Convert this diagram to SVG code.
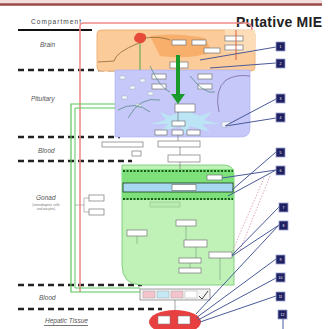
<svg xmlns="http://www.w3.org/2000/svg" width="328" height="329" viewBox="0 0 328 329">
<style>
.lbl{font-family:"Liberation Sans",Arial,sans-serif;font-size:6.5px;font-style:italic;fill:#555}
.sub{font-family:"Liberation Sans",Arial,sans-serif;font-size:3.2px;fill:#777}
.dash{stroke:#222;stroke-width:2.5;stroke-dasharray:6 4;fill:none}
.bx{fill:#fff;stroke:#777;stroke-width:0.7}
.sq{fill:#1f2163;stroke:#9aa0cc;stroke-width:0.8}
.sqt{font-family:"Liberation Sans",Arial,sans-serif;font-size:3.5px;fill:#fff;text-anchor:middle}
.con{stroke:#4a5a98;stroke-width:1;fill:none}
.vein{stroke:#5a8a8a;stroke-width:0.8;fill:none}
.cell{fill:#f4f6ff;stroke:#9aa;stroke-width:0.4}
</style>
<rect width="328" height="329" fill="#fff"/>
<rect x="0" y="0" width="322" height="3.5" fill="#f3dede"/>
<line x1="0" y1="4.5" x2="322" y2="4.5" stroke="#9a4848" stroke-width="2.5"/>

<g id="compartment-labels">
  <text class="lbl" x="31" y="24" style="font-style:normal;fill:#444" textLength="50">Compartment</text>
  <line x1="18" y1="30" x2="92" y2="30" stroke="#111" stroke-width="2"/>
  <text class="lbl" x="40" y="47">Brain</text>
  <text class="lbl" x="31" y="101">Pituitary</text>
  <text class="lbl" x="38" y="153">Blood</text>
  <text class="lbl" x="36" y="200">Gonad</text>
  <text class="sub" x="46" y="206" text-anchor="middle">(steroidogenic cells</text>
  <text class="sub" x="46" y="210" text-anchor="middle">and oocytes)</text>
  <text class="lbl" x="39" y="300">Blood</text>
  <text class="lbl" x="45" y="323">Hepatic Tissue</text>
  <line x1="44" y1="325.5" x2="88" y2="325.5" stroke="#555" stroke-width="0.8"/>
</g>

<g id="dividers">
  <line class="dash" x1="18" y1="70" x2="125" y2="70"/>
  <line class="dash" x1="18" y1="137" x2="120" y2="137"/>
  <line class="dash" x1="18" y1="161" x2="132" y2="161"/>
  <line class="dash" x1="18" y1="285" x2="142" y2="285"/>
  <line class="dash" x1="18" y1="309" x2="162" y2="309"/>
</g>

<text x="236" y="27" font-family="Liberation Sans, Arial, sans-serif" font-size="14" font-weight="bold" fill="#222" textLength="86">Putative MIE</text>

<g id="brain">
  <rect x="97" y="30" width="158" height="41" rx="4" fill="#fccb9a" stroke="#f0a868" stroke-width="0.8"/>
  <rect x="225" y="30" width="30" height="22" fill="#fddcb8"/>
  <path d="M150 36 Q175 32 205 38 L212 52 Q190 60 160 56 Z" fill="#f6a860" opacity="0.8"/>
  <rect x="172" y="40" width="14" height="5" class="bx"/>
  <rect x="192" y="40" width="14" height="5" class="bx"/>
  <rect x="204" y="48" width="16" height="5" class="bx"/>
  <rect x="225" y="36" width="18" height="5" class="bx"/>
  <rect x="225" y="45" width="18" height="5" class="bx"/>
  <rect x="170" y="62" width="18" height="6" class="bx"/>
  <path d="M134 38 Q136 32 141 33 Q147 33 146 39 Q144 44 139 43 Q134 42 134 38 Z" fill="#e84a3a"/>
  <path d="M139 43 Q116 52 114 61 L98 62" stroke="#8a6a3a" stroke-width="0.8" fill="none"/>
  <path d="M145 38 Q160 36 170 40" stroke="#8a6a3a" stroke-width="0.8" fill="none"/>
  <path d="M140 43 L140 70" stroke="#4aa84a" stroke-width="1" fill="none"/>
  <path d="M236 30 V60" stroke="#e06040" stroke-width="1"/>
</g>

<g id="pituitary">
  <path d="M115 70 H250 V128 Q250 137 241 137 H115 Z" fill="#c5c8f8" stroke="#a8acf0" stroke-width="0.6"/>
  <path d="M219 112 Q214 90 226 80 Q236 74 250 76" stroke="#8a7ab8" stroke-width="1" fill="none"/>
  <rect x="120" y="76" width="5" height="3" class="cell"/>
  <rect x="130" y="86" width="5" height="3" class="cell"/>
  <rect x="122" y="96" width="5" height="3" class="cell"/>
  <rect x="140" y="79" width="5" height="3" class="cell"/>
  <rect x="136" y="104" width="5" height="3" class="cell"/>
  <rect x="148" y="92" width="5" height="3" class="cell"/>
  <rect x="152" y="74" width="14" height="5" class="bx"/>
  <rect x="152" y="84" width="14" height="5" class="bx"/>
  <rect x="198" y="74" width="14" height="5" class="bx"/>
  <rect x="198" y="84" width="14" height="5" class="bx"/>
  <path class="vein" d="M118 110 Q135 100 150 112 M128 118 Q140 96 160 100 M190 76 Q205 95 215 92 M150 66 Q160 88 170 92"/>
  <path d="M185 110 L170 116 L160 112 L166 120 L150 124 L168 124 L160 132 L180 126 L185 134 L190 126 L210 132 L202 124 L220 124 L204 120 L212 112 L200 116 Z" fill="#b8ecf4" opacity="0.8"/>
  <rect x="175" y="104" width="20" height="8" class="bx"/>
  <rect x="172" y="121" width="13" height="5" class="bx"/>
  <rect x="155" y="130" width="12" height="5" class="bx"/>
  <rect x="172" y="130" width="11" height="5" class="bx"/>
  <rect x="187" y="130" width="13" height="5" class="bx"/>
  <rect x="222" y="122" width="8" height="5" class="cell"/>
</g>

<g id="hpg-arrow">
  <line x1="178" y1="55" x2="178" y2="96" stroke="#1a9a2a" stroke-width="4"/>
  <polygon points="171,94 185,94 178,104" fill="#1a9a2a"/>
</g>

<g id="blood1">
  <rect x="102" y="142" width="41" height="5" class="bx"/>
  <rect x="158" y="141" width="42" height="6" class="bx"/>
  <rect x="132" y="151" width="9" height="5" class="bx"/>
  <rect x="168" y="155" width="32" height="7" class="bx"/>
</g>

<g id="gonad">
  <path d="M122 165 H224 Q234 165 234 175 V285 H142 Q122 285 122 265 Z" fill="#c0f2b8" stroke="#6cc46c" stroke-width="0.8"/>
  <rect x="122" y="169" width="112" height="31" fill="#7de07a"/>
  <line x1="123" y1="171" x2="233" y2="171" stroke="#1a5a1a" stroke-width="2" stroke-dasharray="2 1.5"/>
  <line x1="123" y1="199" x2="233" y2="199" stroke="#1a5a1a" stroke-width="2" stroke-dasharray="2 1.5"/>
  <rect x="123" y="183" width="110" height="9" fill="#a8d8f0" stroke="#1a3a1a" stroke-width="0.8"/>
  <rect x="172" y="184.5" width="24" height="6" class="bx"/>
  <rect x="207" y="175" width="15" height="5" class="bx"/>
  <rect x="150" y="202" width="30" height="5" fill="#b8ecb0" stroke="#7a7" stroke-width="0.4"/>
  <rect x="176" y="220" width="20" height="6" class="bx"/>
  <rect x="127" y="230" width="20" height="6" class="bx"/>
  <rect x="184" y="240" width="23" height="7" class="bx"/>
  <rect x="209" y="252" width="23" height="6" class="bx"/>
  <rect x="179" y="258" width="22" height="5" class="bx"/>
  <rect x="179" y="268" width="22" height="5" class="bx"/>
  <path d="M186 226 V240 M137 236 V244 M196 247 V258 M190 263 V268 M220 258 V280" stroke="#6a8a6a" stroke-width="0.5" fill="none"/>
</g>

<g id="gonad-side">
  <rect x="89" y="195" width="15" height="6" class="bx"/>
  <rect x="89" y="209" width="15" height="6" class="bx"/>
  <path d="M75 205 H84 M84 198 V212 M84 198 H89 M84 212 H89" stroke="#888" stroke-width="0.6" fill="none"/>
</g>

<g id="blood2">
  <rect x="140" y="289" width="70" height="11" fill="#f4f4f4" stroke="#777" stroke-width="0.7"/>
  <rect x="143" y="291" width="12" height="7" fill="#f4c4cc" stroke="#999" stroke-width="0.4"/>
  <rect x="157" y="291" width="12" height="7" fill="#c4e8f4" stroke="#999" stroke-width="0.4"/>
  <rect x="171" y="291" width="12" height="7" fill="#f4c4cc" stroke="#999" stroke-width="0.4"/>
  <rect x="185" y="291" width="12" height="7" fill="#fff" stroke="#999" stroke-width="0.4"/>
  <path d="M199 296 L202 299 L208 291" stroke="#444" stroke-width="1" fill="none"/>
</g>

<g id="liver">
  <ellipse cx="175" cy="322" rx="26" ry="12" fill="#e84040"/>
  <rect x="158" y="316" width="12" height="8" fill="#fff" stroke="#777" stroke-width="0.5"/>
  <rect x="178" y="316" width="12" height="8" fill="#fff" stroke="#777" stroke-width="0.5"/>
</g>

<g id="connectors">
  <path d="M80 292 V26 Q80 23 84 23 H246 Q252 23 252 30" stroke="#f08a8a" stroke-width="1.6" fill="none"/>
  <path d="M115 104 H71 V292 H140" stroke="#5ac85a" stroke-width="1.2" fill="none"/>
  <path d="M115 108 H75 V288 H140" stroke="#5ac85a" stroke-width="1" fill="none"/>
  <line x1="178" y1="112" x2="178" y2="121" stroke="#666" stroke-width="0.6"/>
  <line x1="178" y1="135" x2="178" y2="141" stroke="#666" stroke-width="0.6"/>
  <line x1="180" y1="147" x2="180" y2="155" stroke="#666" stroke-width="0.6"/>
  <line x1="180" y1="162" x2="180" y2="169" stroke="#666" stroke-width="0.6"/>
  <line x1="175" y1="300" x2="175" y2="310" stroke="#666" stroke-width="0.6"/>
  <path class="con" d="M276 47 L200 60"/>
  <path class="con" d="M276 63 L210 68"/>
  <path class="con" d="M276 99 L225 126"/>
  <path class="con" d="M276 118 L226 126"/>
  <path class="con" d="M276 152 L232 190"/>
  <path class="con" d="M276 170 L222 178"/>
  <path class="con" d="M276 170 L228 196"/>
  <path d="M270 176 L240 250 M264 178 L232 252" stroke="#d890b0" stroke-width="0.8" stroke-dasharray="1.5 1.5" fill="none"/>
  <path class="con" d="M279 207 L232 255"/>
  <path class="con" d="M279 225 L232 256"/>
  <path class="con" d="M279 225 L196 314"/>
  <path class="con" d="M276 259 L196 318"/>
  <path class="con" d="M276 278 L198 320"/>
  <path class="con" d="M276 296 L200 322"/>
  <line x1="283" y1="319" x2="283" y2="329" stroke="#4a5a98" stroke-width="1"/>
</g>

<g id="mie-markers">
  <rect class="sq" x="276" y="42" width="9" height="9"/><text class="sqt" x="280.5" y="48">1</text>
  <rect class="sq" x="276" y="59" width="9" height="9"/><text class="sqt" x="280.5" y="65">2</text>
  <rect class="sq" x="276" y="94" width="9" height="9"/><text class="sqt" x="280.5" y="100">3</text>
  <rect class="sq" x="276" y="113" width="9" height="9"/><text class="sqt" x="280.5" y="119">4</text>
  <rect class="sq" x="276" y="148" width="9" height="9"/><text class="sqt" x="280.5" y="154">5</text>
  <rect class="sq" x="276" y="166" width="9" height="9"/><text class="sqt" x="280.5" y="172">6</text>
  <rect class="sq" x="279" y="203" width="9" height="9"/><text class="sqt" x="283.5" y="209">7</text>
  <rect class="sq" x="279" y="221" width="9" height="9"/><text class="sqt" x="283.5" y="227">8</text>
  <rect class="sq" x="276" y="255" width="9" height="9"/><text class="sqt" x="280.5" y="261">9</text>
  <rect class="sq" x="276" y="273" width="9" height="9"/><text class="sqt" x="280.5" y="279">10</text>
  <rect class="sq" x="276" y="292" width="9" height="9"/><text class="sqt" x="280.5" y="298">11</text>
  <rect class="sq" x="278" y="310" width="9" height="9"/><text class="sqt" x="282.5" y="316">12</text>
</g>
</svg>
